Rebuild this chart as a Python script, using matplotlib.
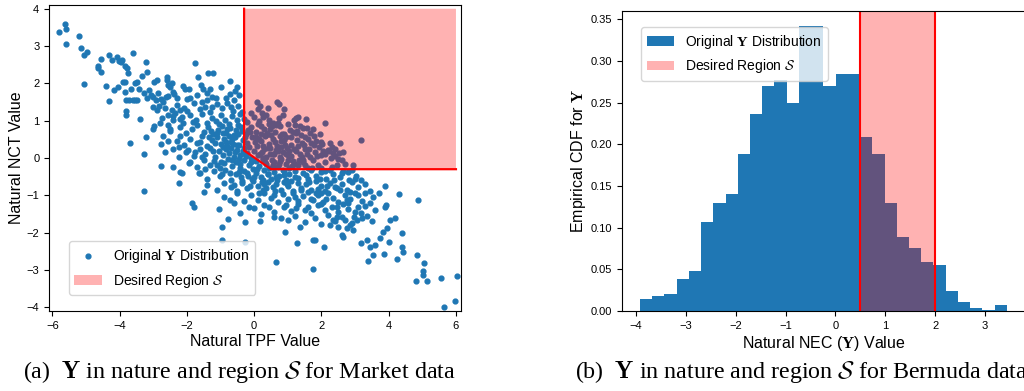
import numpy as np
import matplotlib
matplotlib.use("Agg")
import matplotlib.pyplot as plt

plt.rcParams['font.family'] = ['Liberation Sans', 'DejaVu Sans']
plt.rcParams['mathtext.fontset'] = 'cm'

# ---------------- data: Market (TPF, NCT) scatter ----------------
upper_tail = [
    (-5.79, 3.38), (-5.64, 3.58), (-5.59, 3.46), (-5.61, 3.06), (-5.21, 3.27), (-5.15, 2.94),
    (-4.98, 2.83), (-5.05, 2.76), (-5.05, 1.97), (-4.65, 2.47), (-4.65, 2.40), (-4.55, 2.64),
    (-4.56, 2.31), (-4.40, 1.94), (-4.32, 2.75), (-4.31, 1.54), (-4.23, 2.62), (-4.18, 1.82),
    (-4.07, 2.70), (-4.01, 2.60), (-3.96, 2.57), (-3.92, 2.62), (-4.04, 1.91), (-3.89, 2.04),
    (-3.84, 2.46), (-3.79, 2.40), (-3.76, 2.29), (-3.83, 2.04), (-3.84, 1.78), (-3.82, 1.55),
    (-3.81, 1.26), (-3.82, 1.15), (-3.70, 0.41), (-3.59, 2.82), (-3.67, 1.84), (-3.55, 2.02),
    (-3.49, 2.04), (-3.44, 1.85), (-3.71, 1.55), (-3.61, 1.55), (-3.54, 1.55), (-3.47, 1.55),
    (-3.41, 1.05), (-3.34, 2.21), (-3.29, 1.73), (-3.20, 1.60), (-3.29, 0.11), (-3.27, -0.88),
    (-3.21, 2.57), (-3.20, 2.31), (-3.21, 0.57), (-3.14, 1.82), (-3.08, 1.69), (-3.00, 1.64),
    (-2.97, 2.04), (-2.90, 2.10), (-3.00, 1.38), (-2.92, 1.55), (-2.90, 1.29), (-3.02, 0.79),
    (-2.98, 0.86), (-2.82, 1.40), (-2.77, 1.58), (-2.70, 1.51), (-2.80, 0.93), (-2.73, 1.06),
    (-2.77, 0.37), (-2.76, -0.21), (-2.65, 0.15), (-2.60, 2.09), (-2.58, 2.18), (-2.55, 1.96),
    (-2.50, 1.89), (-2.45, 2.00), (-2.61, 1.64), (-2.55, 1.66), (-2.57, 0.88), (-2.50, 0.79),
    (-2.55, 0.46), (-2.42, -0.23), (-2.45, 1.29), (-2.35, 1.20), (-2.40, 1.02), (-2.40, 1.78),
    (-2.38, 1.71), (-2.25, 0.04), (-2.24, 0.30), (-2.23, -0.68), (-2.20, -0.37), (-2.15, -0.41),
    (-2.13, 1.93), (-2.05, 1.84), (-2.01, 1.59), (-1.91, 1.62), (-2.20, 1.29), (-2.10, 1.33),
    (-2.15, 1.11), (-1.76, 2.55), (-1.86, -1.21), (-1.79, -1.30), (-1.96, 0.21), (-1.93, -0.14),
    (-1.68, 2.16), (-1.58, 1.95), (-1.51, 1.84), (-1.37, 2.27), (-1.21, 2.29), (-1.32, 1.84),
    (-1.41, 1.55), (-1.26, 1.64), (-1.49, -0.90), (-1.06, -1.37), (-0.96, -1.84), (-0.95, -2.21),
    (-0.78, -1.63), (-0.71, 2.06), (-0.73, 1.71), (-0.57, 1.80), (-0.51, 1.89), (-0.27, -2.25),
    (-0.27, -1.71), (-0.42, -1.48), (-0.71, -1.13), (-0.61, -1.21), (0.08, 1.51), (0.16, 1.39),
    (0.42, 1.35), (0.67, 1.51), (0.75, 1.44), (0.89, 1.30), (0.24, 1.20), (0.27, 1.09),
    (1.23, 1.06), (1.31, 1.09), (1.53, 1.04), (2.11, 0.93), (2.01, 0.37), (2.52, 0.14),
    (2.40, 0.23), (2.21, 0.20), (2.34, 0.13), (3.18, 0.48),
]

core = [
    (-2.3, 1.42), (-2.0, 1.25), (-1.8, 1.47), (-1.62, 1.3), (-1.45, 1.38), (-1.3, 1.22), (-1.12, 1.45),
    (-0.95, 1.33), (-0.8, 1.48), (-0.62, 1.27), (-0.47, 1.4), (-0.36, 1.23), (-1.55, 1.5), (-0.7, 1.36),
    (-2.42, 1.12), (-2.12, 0.95), (-1.9, 1.15), (-1.72, 1.02), (-1.56, 1.18), (-1.41, 0.93), (-1.26, 1.08),
    (-1.14, 0.98), (-1.0, 1.16), (-0.88, 1.03), (-0.76, 0.92), (-0.66, 1.13), (-0.52, 1.01), (-0.41, 1.17),
    (-0.21, 0.96), (0.0, 1.1), (0.14, 0.98), (0.36, 1.14), (0.55, 0.94), (0.74, 1.06), (1.0, 0.92),
    (1.18, 1.02), (-1.82, 0.97), (-0.3, 1.05), (0.45, 1.03),
    (-2.5, 0.72), (-2.22, 0.84), (-2.02, 0.66), (-1.86, 0.78), (-1.7, 0.88), (-1.5, 0.69), (-1.36, 0.82),
    (-1.21, 0.63), (-1.08, 0.76), (-0.96, 0.87), (-0.84, 0.68), (-0.71, 0.8), (-0.6, 0.62), (-0.49, 0.89),
    (-0.36, 0.73), (-0.24, 0.64), (-0.1, 0.83), (0.06, 0.7), (0.19, 0.87), (0.34, 0.61), (0.46, 0.78),
    (0.61, 0.69), (0.76, 0.85), (0.9, 0.64), (1.06, 0.76), (1.24, 0.68), (1.44, 0.8), (1.66, 0.66),
    (-1.28, 0.72), (-0.55, 0.75), (0.28, 0.77), (-0.92, 0.66),
    (-2.3, 0.45), (-2.08, 0.34), (-1.9, 0.52), (-1.7, 0.4), (-1.56, 0.58), (-1.4, 0.32), (-1.26, 0.47),
    (-1.12, 0.55), (-1.0, 0.37), (-0.9, 0.5), (-0.8, 0.31), (-0.69, 0.44), (-0.56, 0.57), (-0.44, 0.35),
    (-0.32, 0.49), (-0.2, 0.41), (-0.06, 0.56), (0.09, 0.33), (0.2, 0.46), (0.31, 0.58), (0.44, 0.38),
    (0.56, 0.51), (0.69, 0.32), (0.81, 0.45), (0.95, 0.55), (1.1, 0.36), (1.26, 0.48), (1.41, 0.4),
    (1.6, 0.52), (1.79, 0.34), (2.0, 0.44), (-1.62, 0.43), (-0.62, 0.38), (0.14, 0.52), (0.76, 0.58),
    (-1.18, 0.4),
    (-2.02, 0.16), (-1.8, 0.05), (-1.61, 0.24), (-1.46, 0.1), (-1.31, 0.27), (-1.16, 0.02), (-1.04, 0.18),
    (-0.94, 0.08), (-0.84, 0.25), (-0.74, 0.13), (-0.61, 0.03), (-0.5, 0.22), (-0.41, 0.09), (-0.3, 0.28),
    (-0.2, 0.14), (-0.09, 0.01), (0.0, 0.2), (0.11, 0.07), (0.24, 0.17), (0.36, 0.04), (0.46, 0.26),
    (0.55, 0.11), (0.66, 0.21), (0.76, 0.02), (0.86, 0.15), (0.99, 0.27), (1.1, 0.06), (1.24, 0.19),
    (1.36, 0.1), (1.5, 0.24), (1.66, 0.03), (1.81, 0.16), (1.98, 0.08), (2.19, 0.22), (2.4, 0.05),
    (-1.55, 0.02), (-0.7, 0.27), (0.3, 0.24), (0.95, 0.1), (-0.25, 0.05), (1.42, 0.02),
    (-1.9, -0.12), (-1.7, -0.25), (-1.5, -0.05), (-1.31, -0.19), (-1.19, -0.08), (-1.01, -0.28),
    (-0.9, -0.14), (-0.79, -0.03), (-0.66, -0.22), (-0.54, -0.1), (-0.41, -0.27), (-0.3, -0.06),
    (-0.16, -0.18), (-0.05, -0.29), (0.05, -0.09), (0.15, -0.21), (0.26, -0.04), (0.35, -0.16),
    (0.45, -0.27), (0.59, -0.11), (0.7, -0.23), (0.81, -0.02), (0.94, -0.17), (1.04, -0.28),
    (1.16, -0.08), (1.3, -0.2), (1.44, -0.12), (1.6, -0.26), (1.76, -0.06), (1.9, -0.18), (2.1, -0.1),
    (2.3, -0.24), (2.5, -0.04), (2.71, -0.16), (-1.1, -0.2), (-0.45, -0.02), (0.52, -0.06),
    (1.22, -0.15), (2.0, -0.27), (-0.1, -0.12),
    (-1.6, -0.41), (-1.39, -0.55), (-1.2, -0.36), (-1.01, -0.49), (-0.86, -0.33), (-0.7, -0.58),
    (-0.55, -0.42), (-0.4, -0.52), (-0.3, -0.35), (-0.19, -0.47), (-0.06, -0.57), (0.05, -0.39),
    (0.19, -0.5), (0.3, -0.32), (0.4, -0.44), (0.5, -0.56), (0.6, -0.37), (0.74, -0.49), (0.85, -0.31),
    (0.95, -0.58), (1.05, -0.43), (1.2, -0.34), (1.3, -0.53), (1.45, -0.4), (1.6, -0.56), (1.7, -0.33),
    (1.85, -0.47), (2.0, -0.38), (2.15, -0.55), (2.35, -0.42), (2.55, -0.51), (2.8, -0.38), (3.0, -0.57),
    (-0.95, -0.42), (0.25, -0.58), (0.9, -0.45), (1.55, -0.45), (2.25, -0.33), (-0.45, -0.37), (0.65, -0.52),
    (-1.4, -0.72), (-1.1, -0.85), (-0.9, -0.66), (-0.7, -0.79), (-0.5, -0.88), (-0.35, -0.68), (-0.2, -0.81),
    (-0.05, -0.62), (0.1, -0.75), (0.25, -0.87), (0.4, -0.64), (0.55, -0.77), (0.65, -0.69), (0.8, -0.86),
    (0.9, -0.63), (1.0, -0.74), (1.15, -0.89), (1.3, -0.66), (1.4, -0.8), (1.55, -0.7), (1.7, -0.85),
    (1.85, -0.61), (2.0, -0.76), (2.1, -0.88), (2.25, -0.67), (2.4, -0.79), (2.6, -0.7), (2.75, -0.86),
    (2.9, -0.64), (3.1, -0.77), (3.3, -0.7), (0.3, -0.7), (1.1, -0.62), (1.9, -0.83), (-0.6, -0.72),
    (-0.9, -1.05), (-0.5, -0.95), (-0.3, -1.15), (-0.1, -1.0), (0.1, -1.12), (0.3, -0.93), (0.5, -1.08),
    (0.7, -1.18), (0.85, -0.97), (1.0, -1.1), (1.15, -0.94), (1.3, -1.16), (1.45, -1.02), (1.6, -0.92),
    (1.75, -1.13), (1.9, -1.0), (2.05, -1.19), (2.2, -0.95), (2.35, -1.07), (2.5, -1.17), (2.7, -0.98),
    (2.85, -1.1), (3.0, -0.94), (3.2, -1.14), (1.2, -1.05), (2.0, -0.95), (0.6, -0.98),
    (0.0, -1.35), (0.3, -1.25), (0.6, -1.45), (0.9, -1.3), (1.1, -1.42), (1.3, -1.24), (1.5, -1.38),
    (1.7, -1.48), (1.9, -1.27), (2.1, -1.4), (2.3, -1.32), (2.5, -1.46), (2.65, -1.22), (2.8, -1.36),
    (3.0, -1.45), (3.3, -1.28), (3.6, -1.4), (2.0, -1.22), (1.6, -1.3),
    (0.8, -1.62), (1.2, -1.55), (1.5, -1.72), (1.8, -1.6), (2.0, -1.78), (2.2, -1.52), (2.4, -1.68),
    (2.6, -1.57), (2.9, -1.74), (3.2, -1.62), (3.5, -1.7), (2.7, -1.65),
]

core_dense = [
    (-2.85, 1.75), (-2.65, 1.35), (-2.3, 1.6), (-2.2, 1.05), (-1.95, 1.85), (-1.7, 1.7), (-1.4, 1.75),
    (-1.15, 1.6), (-1.0, 1.9), (-0.85, 1.62), (-0.6, 1.55), (-0.45, 1.7), (-1.25, 1.38), (-2.55, 1.15),
    (-2.7, 0.6), (-2.4, 0.25), (-2.2, 0.6), (-1.75, 0.15), (-1.65, -0.4), (-1.45, -0.3),
    (-1.05, 0.9), (-0.85, 0.42), (-0.75, 0.6), (-0.65, -0.05), (-0.58, 0.15), (-0.48, 0.65), (-0.42, -0.15),
    (-0.38, 0.82), (-0.33, 0.18), (-0.27, 0.55), (-0.22, -0.4), (-0.15, 0.3), (-0.12, 0.7), (-0.04, -0.05),
    (0.02, 0.42), (0.08, -0.3), (0.12, 0.9), (0.18, 0.1), (0.22, -0.65), (0.27, 0.33), (0.32, -0.1),
    (0.38, 0.68), (0.41, -0.42), (0.48, 0.12), (0.52, 0.85), (0.58, -0.25), (0.63, 0.42), (0.68, -0.6),
    (0.72, 0.18), (0.78, -0.08), (0.83, 0.65), (0.88, -0.35), (0.92, 0.35), (0.98, -0.7), (1.02, 0.08),
    (1.08, 0.55), (1.12, -0.22), (1.18, 0.25), (1.21, -0.5), (1.28, 0.72), (1.33, -0.05), (1.38, -0.85),
    (1.47, 0.35), (1.52, -0.18), (1.57, 0.12), (1.63, -0.65), (1.69, 0.4), (1.73, -0.28), (1.78, 0.6),
    (1.83, -0.95), (1.88, 0.05), (1.95, -0.55), (2.05, 0.2), (2.12, -0.35), (2.18, -0.75), (2.28, 0.0),
    (2.38, -0.6), (2.45, -0.2), (2.55, -0.85), (2.62, -0.4), (2.82, -0.6), (2.95, -0.2), (3.1, -1.0),
    (-1.35, 0.55), (-1.22, 0.2), (-1.1, 0.68), (-0.98, -0.1), (-0.92, 0.3), (-0.8, 0.78), (-0.72, -0.4),
    (-0.66, 0.5), (-0.52, 0.35), (-0.36, -0.62), (-0.28, 0.1), (-0.12, -0.75), (0.0, -0.5), (0.14, -0.95),
    (0.35, -0.8), (0.45, 0.9), (0.62, -0.88), (0.7, 0.95), (1.22, 0.88), (1.4, 0.62), (1.58, 0.8),
    (1.92, 0.3), (2.25, 0.4), (2.6, -0.05), (0.95, -1.25), (1.25, -1.35), (1.68, -1.1), (2.15, -1.1),
    (2.45, -1.3), (2.8, -1.2), (0.45, -1.3), (-0.15, -1.3), (0.2, -1.5), (1.0, -1.65), (1.35, -1.85),
    (2.5, -1.85), (3.35, -1.55), (3.7, -0.95), (3.45, -1.2),
    (-0.18, 0.75), (-0.1, 1.2), (0.05, 0.55), (0.1, 1.3), (0.2, 0.65), (0.25, 0.0), (0.4, 0.28),
    (0.5, 0.62), (0.6, 0.1), (0.65, 0.88), (0.8, 0.3), (0.85, 1.15), (0.9, 0.48), (1.05, 0.2),
    (1.15, 0.7), (1.3, 0.32), (1.35, 0.85), (1.5, 0.55), (1.62, 0.25), (1.75, 0.78), (1.85, 0.45),
    (1.95, 0.65), (2.1, 0.1), (2.3, 0.3), (2.55, 0.4), (2.65, 0.15), (0.55, -0.2), (0.75, -0.15),
    (1.0, -0.05), (1.45, -0.05),
]

lower_tail = [
    (0.17, -1.68), (0.65, -2.80), (0.60, -1.59), (0.92, -1.97), (1.26, -2.27), (1.74, -2.98),
    (1.76, -2.20), (1.81, -2.20), (2.09, -2.38), (2.46, -0.81), (2.65, -0.34), (2.90, -0.32),
    (3.03, -0.47), (3.18, -0.59), (2.75, -1.12), (2.85, -0.90), (3.30, -0.95), (3.44, -0.88),
    (3.54, -1.04), (3.89, -0.74), (4.32, -0.96), (4.88, -1.13), (3.89, -1.30), (3.92, -1.26),
    (4.04, -1.66), (4.19, -1.62), (3.94, -1.88), (4.39, -2.02), (3.84, -1.97), (3.74, -2.15),
    (3.59, -2.33), (3.44, -2.38), (3.34, -2.20), (3.19, -2.29), (3.52, -2.60), (3.39, -2.75),
    (4.02, -2.24), (4.39, -2.38), (4.44, -2.51), (3.86, -2.56), (4.26, -2.71), (4.83, -2.60),
    (5.05, -2.82), (5.03, -3.04), (5.03, -3.13), (5.13, -3.29), (4.81, -3.29), (5.56, -3.22),
    (6.02, -3.16), (5.63, -3.98), (5.97, -3.84), (2.95, -1.93), (2.75, -1.88), (2.85, -1.79),
    (2.60, -2.06), (2.65, -2.11), (2.35, -1.66), (2.45, -1.57), (2.26, -1.79), (3.10, -1.30),
    (3.19, -1.48), (3.05, -1.66), (2.97, -1.57),
]

# desired region S (Market): boundary corners
region_x = [-0.3, -0.3, 0.5, 6.0]
region_y = [4.0, 0.2, -0.3, -0.3]

# ---------------- data: Bermuda NEC histogram (density) ----------------
nec_bin_start = -3.92
nec_bin_width = 0.2452
nec_density = [0.0144, 0.018, 0.0204, 0.0384, 0.048, 0.1072, 0.1296, 0.1404, 0.1884, 0.2364,
               0.27, 0.2772, 0.2496, 0.342, 0.342, 0.27, 0.2844, 0.2844, 0.2088, 0.1884,
               0.1296, 0.0888, 0.0756, 0.0588, 0.0552, 0.024, 0.0108, 0.0036, 0.0012, 0.0072]
nec_region = (0.5, 2.0)

# ---------------- figure ----------------
fig = plt.figure(figsize=(10.24, 3.91), dpi=100)
ax1 = fig.add_axes([0.0479, 0.2046, 0.4023, 0.7826])
ax2 = fig.add_axes([0.6074, 0.2046, 0.3945, 0.767])

pts = np.array(upper_tail + core + core_dense + lower_tail)
sc = ax1.scatter(pts[:, 0], pts[:, 1], s=12, color='C0', zorder=2)
fill_x = region_x + [region_x[-1]]
fill_y = region_y + [region_y[0]]
reg = ax1.fill(fill_x, fill_y, color='red', alpha=0.3, lw=0, zorder=3)[0]
ax1.plot(region_x, region_y, color='red', lw=1.6, zorder=4)
ax1.set_xlim(-6.1, 6.15)
ax1.set_ylim(-4.1, 4.1)
ax1.set_xticks(np.arange(-6, 7, 2))
ax1.set_yticks(np.arange(-4, 5, 1))
ax1.tick_params(labelsize=8)
ax1.set_xlabel('Natural TPF Value', fontsize=11.5, labelpad=2)
ax1.set_ylabel('Natural NCT Value', fontsize=11.5, labelpad=2)
ax1.legend([sc, reg], [r'Original $\mathbf{Y}$ Distribution', r'Desired Region $\mathcal{S}$'],
           loc='lower left', bbox_to_anchor=(0.048, 0.052), borderaxespad=0, fontsize=10)

edges = nec_bin_start + nec_bin_width * np.arange(len(nec_density) + 1)
bars = ax2.bar(edges[:-1], nec_density, width=nec_bin_width, align='edge', color='C0')
span = ax2.axvspan(nec_region[0], nec_region[1], color='red', alpha=0.3, lw=0)
for xv in nec_region:
    ax2.axvline(xv, color='red', lw=1.5)
ax2.set_xlim(-4.28, 3.82)
ax2.set_ylim(0, 0.36)
ax2.set_yticks(np.arange(0, 0.36, 0.05))
ax2.tick_params(labelsize=8)
ax2.set_xlabel(r'Natural NEC ($\mathbf{Y}$) Value', fontsize=11.5, labelpad=2)
ax2.set_ylabel(r'Empirical CDF for $\mathbf{Y}$', fontsize=11.5, labelpad=2)
ax2.legend([bars, span], [r'Original $\mathbf{Y}$ Distribution', r'Desired Region $\mathcal{S}$'],
           loc='upper left', bbox_to_anchor=(0.047, 0.947), borderaxespad=0, fontsize=10)

cap_font = {'family': 'Liberation Serif', 'size': 17.3}
fig.text(0.0225, 0.049, r'(a)  $\mathbf{Y}$ in nature and region $\mathcal{S}$ for Market data',
         ha='left', va='center', fontdict=cap_font)
fig.text(0.5615, 0.049, r'(b)  $\mathbf{Y}$ in nature and region $\mathcal{S}$ for Bermuda data',
         ha='left', va='center', fontdict=cap_font)

fig.savefig('out.png', dpi=100)
